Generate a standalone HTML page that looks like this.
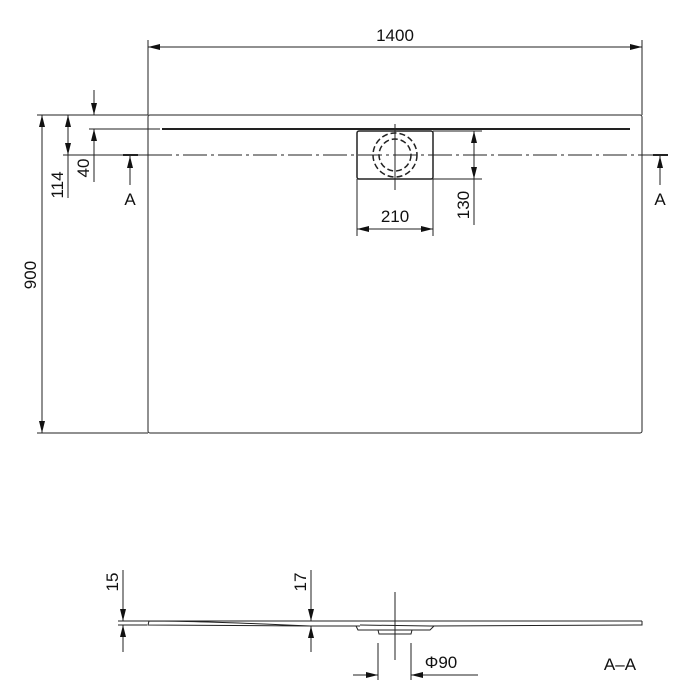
<!DOCTYPE html>
<html><head><meta charset="utf-8"><style>body{margin:0;background:#fff}svg{display:block}text{font-family:"Liberation Sans Narrow","Liberation Sans",sans-serif;font-size:17px;fill:#111}</style></head><body>
<svg width="700" height="700" viewBox="0 0 700 700" xmlns="http://www.w3.org/2000/svg">
<defs>
<marker id="a" viewBox="0 0 12 6" refX="12" refY="3" markerWidth="12" markerHeight="6" orient="auto-start-reverse" markerUnits="userSpaceOnUse"><path d="M0,0L12,3L0,6z" fill="#111"/></marker>
</defs>
<g stroke="#222" stroke-width="1" fill="none">
<rect x="148" y="115" width="494" height="318" rx="2"/>
<line x1="148" y1="40" x2="148" y2="115"/><line x1="642" y1="40" x2="642" y2="115"/>
<line x1="148" y1="47" x2="642" y2="47" marker-start="url(#a)" marker-end="url(#a)"/>
<line x1="37" y1="115" x2="148" y2="115"/><line x1="37" y1="433" x2="148" y2="433"/>
<line x1="42" y1="115" x2="42" y2="433" marker-start="url(#a)" marker-end="url(#a)"/>
<line x1="68" y1="115" x2="68" y2="155" marker-start="url(#a)" marker-end="url(#a)"/>
<line x1="68" y1="155" x2="68" y2="198"/>
<line x1="63" y1="155" x2="148" y2="155"/>
<line x1="94" y1="90" x2="94" y2="115" marker-end="url(#a)"/>
<line x1="94" y1="182" x2="94" y2="129" marker-end="url(#a)"/>
<line x1="89" y1="129" x2="160" y2="129"/>
<line x1="130" y1="185" x2="130" y2="156" marker-end="url(#a)"/>
<line x1="123" y1="155" x2="138" y2="155" stroke-width="2"/>
<line x1="660" y1="185" x2="660" y2="156" marker-end="url(#a)"/>
<line x1="653" y1="155" x2="668" y2="155" stroke-width="2"/>
<line x1="148" y1="155" x2="665" y2="155" stroke-dasharray="24,4,3,4"/>
<line x1="162" y1="129" x2="630" y2="129" stroke-width="2"/>
<rect x="357" y="131" width="76" height="48" rx="2" stroke-width="1.5"/>
<circle cx="395" cy="155" r="22" stroke-dasharray="6,3" stroke-width="1.5"/>
<circle cx="395" cy="155" r="16" stroke-dasharray="6,3" stroke-width="1.5"/>
<line x1="395" y1="124" x2="395" y2="190"/>
<line x1="357" y1="179" x2="357" y2="236"/><line x1="433" y1="179" x2="433" y2="236"/>
<line x1="357" y1="229" x2="433" y2="229" marker-start="url(#a)" marker-end="url(#a)"/>
<line x1="433" y1="131" x2="482" y2="131"/><line x1="433" y1="179" x2="482" y2="179"/>
<line x1="474" y1="131" x2="474" y2="179" marker-start="url(#a)" marker-end="url(#a)"/>
<line x1="474" y1="179" x2="474" y2="225"/>
<line x1="118" y1="621" x2="642" y2="621"/>
<line x1="118" y1="625" x2="147" y2="625"/>
<path d="M149,621 L148,625 L310,626 L360,626 M310,626 Q200,621 149,621"/>
<path d="M360,625 L430,626 L642,625 L642,621" />
<path d="M356,626 L358,630 L430,630 L434,626"/>
<path d="M378,630 L379,634 L411,634 L412,630"/>
<line x1="395" y1="592" x2="395" y2="660"/>
<line x1="123" y1="570" x2="123" y2="621" marker-end="url(#a)"/>
<line x1="123" y1="652" x2="123" y2="625" marker-end="url(#a)"/>
<line x1="311" y1="570" x2="311" y2="621" marker-end="url(#a)"/>
<line x1="311" y1="652" x2="311" y2="626" marker-end="url(#a)"/>
<line x1="378" y1="643" x2="378" y2="680"/><line x1="411" y1="643" x2="411" y2="680"/>
<line x1="353" y1="675" x2="378" y2="675" marker-end="url(#a)"/>
<line x1="478" y1="675" x2="411" y2="675" marker-end="url(#a)"/>
</g>
<text x="395" y="41" text-anchor="middle">1400</text>
<text transform="translate(36,275) rotate(-90)" text-anchor="middle">900</text>
<text transform="translate(63,185) rotate(-90)" text-anchor="middle">114</text>
<text transform="translate(89,168) rotate(-90)" text-anchor="middle">40</text>
<text x="130" y="205" text-anchor="middle" font-size="19">A</text>
<text x="660" y="205" text-anchor="middle" font-size="19">A</text>
<text x="395" y="222" text-anchor="middle">210</text>
<text transform="translate(469,205) rotate(-90)" text-anchor="middle">130</text>
<text transform="translate(118,582) rotate(-90)" text-anchor="middle">15</text>
<text transform="translate(306,582) rotate(-90)" text-anchor="middle">17</text>
<text x="441" y="668" text-anchor="middle">Φ90</text>
<text x="620" y="670" text-anchor="middle" font-size="19">A–A</text>
</svg>
</body></html>
